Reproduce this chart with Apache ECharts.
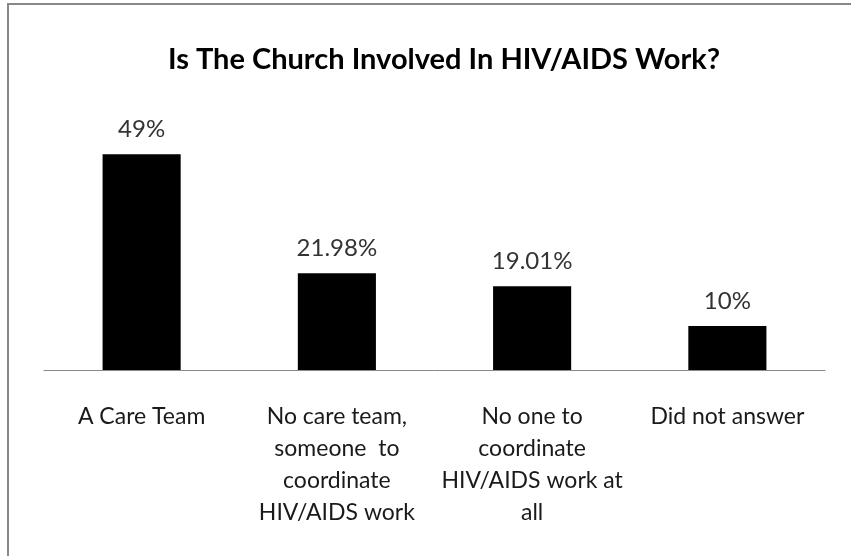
<!DOCTYPE html>
<html>
<head>
<meta charset="utf-8">
<script src="https://cdn.jsdelivr.net/npm/echarts@6/dist/echarts.min.js"></script>
<style>
  html, body { margin: 0; padding: 0; background: #fff; }
  #chart { width: 851px; height: 556px; }
</style>
</head>
<body>
<div id="chart"></div>
<script>
var categories = ['A Care Team', 'No care team,\nsomeone  to\ncoordinate\nHIV/AIDS work', 'No one to\ncoordinate\nHIV/AIDS work at\nall', 'Did not answer'];
var values = [49, 21.98, 19.01, 10];
var valueLabels = ['49%', '21.98%', '19.01%', '10%'];

var font = 'Lato, "Open Sans", sans-serif';

var option = {
    animation: false,
    backgroundColor: '#fff',
    title: {
        text: 'Is The Church Involved In HIV/AIDS Work?',
        left: 439,
        textAlign: 'center',
        top: 40,
        textStyle: { fontFamily: font, fontSize: 29, fontWeight: 'bold', color: '#000' }
    },
    graphic: [{
        type: 'rect',
        shape: { x: 8, y: 4, width: 900, height: 600 },
        style: { fill: null, stroke: '#888', lineWidth: 2 },
        silent: true
    }],
    grid: { left: 44, right: 26, top: 100, bottom: 186 },
    xAxis: {
        type: 'category',
        data: categories,
        axisLine: { lineStyle: { color: '#888', width: 1 } },
        axisTick: { show: false },
        axisLabel: {
            interval: 0,
            margin: 31,
            fontFamily: font,
            fontSize: 23,
            color: '#1a1a1a',
            lineHeight: 32,
            align: 'center'
        }
    },
    yAxis: {
        type: 'value',
        min: 0,
        max: 61.3,
        show: false,
        splitLine: { show: false }
    },
    series: [{
        type: 'bar',
        data: values,
        barWidth: '40%',
        itemStyle: { color: '#000' },
        label: {
            show: true,
            position: 'top',
            distance: 13,
            fontFamily: font,
            fontSize: 24,
            color: '#333',
            formatter: function (p) { return valueLabels[p.dataIndex]; }
        }
    }]
};

var myChart = echarts.init(document.getElementById('chart'));
myChart.setOption(option);
</script>
</body>
</html>
